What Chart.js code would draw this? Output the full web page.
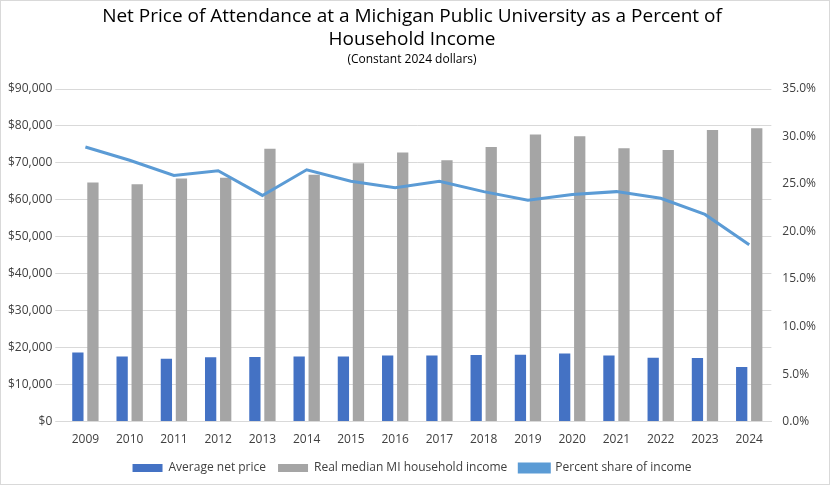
<!DOCTYPE html>
<html><head><meta charset="utf-8">
<script src="https://cdn.jsdelivr.net/npm/chart.js@4"></script>
<style>
html,body{margin:0;padding:0;background:#fff;}
#wrap{width:828px;height:483px;border:1px solid #d9d9d9;position:relative;}
</style></head>
<body><div id="wrap"><canvas id="c"></canvas></div>
<script>
const years = ['2009','2010','2011','2012','2013','2014','2015','2016','2017','2018','2019','2020','2021','2022','2023','2024'];
const netPrice = [18700,17600,17000,17400,17500,17600,17600,17900,17900,18000,18100,18400,17900,17300,17200,14800];
const medianIncome = [64700,64200,65800,66000,73800,66800,69900,72800,70700,74300,77700,77200,74000,73500,78900,79400];
const pctShare = [28.9,27.5,25.9,26.4,23.8,26.5,25.3,24.6,25.3,24.2,23.3,23.9,24.2,23.5,21.8,18.6];

Chart.defaults.font.family = "'Open Sans', 'Liberation Sans', sans-serif";
Chart.defaults.color = '#404040';

new Chart(document.getElementById('c'), {
  data: {
    labels: years,
    datasets: [
      { type: 'line', label: 'Percent share of income', data: pctShare, yAxisID: 'y2',
        borderColor: '#5b9bd5', backgroundColor: '#5b9bd5', borderWidth: 3, pointRadius: 0, tension: 0, order: 0 },
      { type: 'bar', label: 'Average net price', data: netPrice, yAxisID: 'y',
        backgroundColor: '#4472c4', barPercentage: 0.75, categoryPercentage: 0.68, order: 1 },
      { type: 'bar', label: 'Real median MI household income', data: medianIncome, yAxisID: 'y',
        backgroundColor: '#a5a5a5', barPercentage: 0.75, categoryPercentage: 0.68, order: 1 }
    ]
  },
  options: {
    responsive: true, maintainAspectRatio: false, animation: false,
    layout: { padding: { left: 4, right: 10, top: 4, bottom: 0 } },
    plugins: {
      title: { display: true, text: ['Net Price of Attendance at a Michigan Public University as a Percent of', 'Household Income'],
        color: '#000', font: { size: 19, weight: 'normal' }, padding: { top: 0, bottom: 0 } },
      subtitle: { display: true, text: '(Constant 2024 dollars)', color: '#000', font: { size: 12 }, padding: { top: 2, bottom: 22 } },
      legend: { position: 'bottom',
        labels: { color: '#404040', font: { size: 12 }, boxWidth: 30, boxHeight: 8, padding: 12,
          sort: (a, b) => [1,2,0].indexOf(a.datasetIndex) - [1,2,0].indexOf(b.datasetIndex) } }
    },
    scales: {
      x: { grid: { display: false }, border: { color: '#d9d9d9' }, ticks: { font: { size: 12 } } },
      y: { position: 'left', min: 0, max: 90000, ticks: { stepSize: 10000, font: { size: 12 },
          callback: v => '$' + v.toLocaleString('en-US') },
        grid: { color: '#d9d9d9' }, border: { display: false } },
      y2: { position: 'right', min: 0, max: 35, ticks: { stepSize: 5, font: { size: 12 }, callback: v => v.toFixed(1) + '%' },
        grid: { display: false }, border: { display: false } }
    }
  }
});
</script></body></html>
